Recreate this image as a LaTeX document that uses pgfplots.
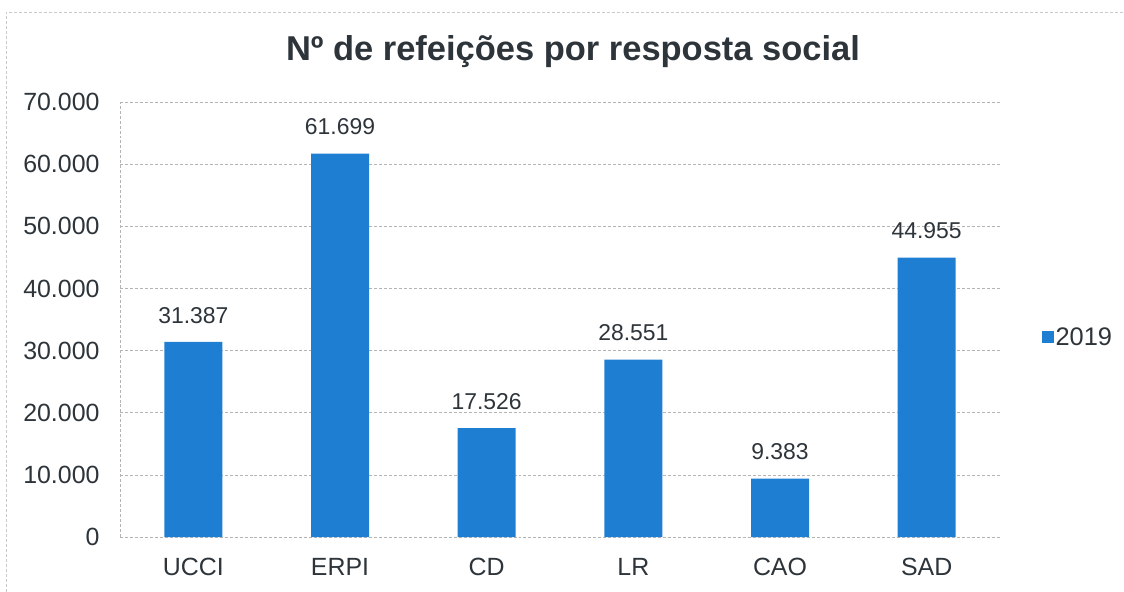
\documentclass[border=0pt]{standalone}
\usepackage{pgfplots}
\pgfplotsset{compat=1.18}
\usepackage{fontspec}
\setmainfont{Liberation Sans}
\definecolor{barblue}{RGB}{30,127,210}
\definecolor{txt}{RGB}{45,52,58}
\definecolor{gridc}{RGB}{180,180,180}
\begin{document}
\begin{tikzpicture}
\useasboundingbox (0bp,0bp) rectangle (1124bp,592bp);
\draw[gridc!70, line width=0.8bp, densely dashed] (6bp,-5bp) -- (6bp,580bp) -- (1130bp,580bp);
\node[font=\fontsize{34.6}{40}\selectfont\bfseries, text=txt] at (573bp,540bp) {Nº de refeições por resposta social};
\begin{axis}[
  at={(120bp,55bp)}, anchor=south west,
  scale only axis, width=880bp, height=435bp,
  xmin=-0.5, xmax=5.5, ymin=0, ymax=70000,
  ytick={0,10000,...,70000},
  xtick={0,1,2,3,4,5},
  xticklabels={UCCI,ERPI,CD,LR,CAO,SAD},
  scaled y ticks=false,
  /pgf/number format/.cd, fixed, precision=0, 1000 sep={.}, assume math mode=true,
  /pgfplots/.cd,
  major tick length=0pt,
  axis x line*=bottom, axis y line*=left,
  axis line style={draw=gridc, densely dashed, line width=0.6bp},
  ymajorgrids, grid style={draw=gridc, densely dashed, line width=0.6bp},
  tick label style={font=\fontsize{25}{29}\selectfont, text=txt},
  yticklabel style={xshift=-17bp},
  xticklabel style={yshift=-18bp},
  ybar, bar width=58bp, bar shift=0pt,
  nodes near coords,
  every node near coord/.append style={font=\fontsize{23}{28}\selectfont, text=txt, yshift=15bp},
  legend style={at={(1.047,0.46)}, anchor=west, draw=none, fill=none, font=\fontsize{25.5}{29}\selectfont, text=txt, inner sep=0pt},
  legend image code/.code={\fill[#1] (0bp,-6bp) rectangle (12bp,6bp);},
  clip=false,
]
\addplot[fill=barblue, draw=none] coordinates {(0,31387) (1,61699) (2,17526) (3,28551) (4,9383) (5,44955)};
\addlegendentry{2019}
\end{axis}
\end{tikzpicture}
\end{document}
